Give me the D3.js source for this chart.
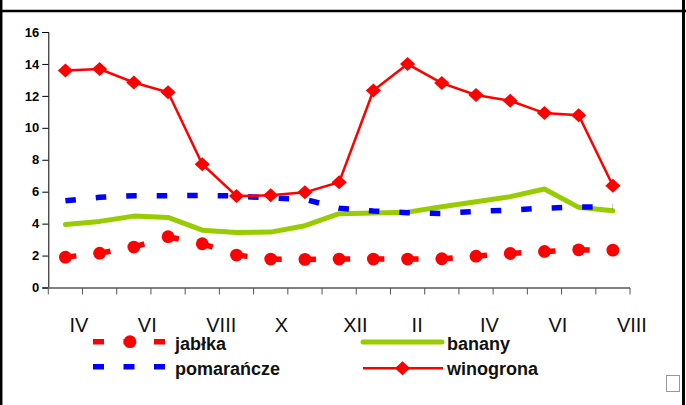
<!doctype html>
<html>
<head>
<meta charset="utf-8">
<title>Ceny owoców</title>
<script src="https://cdnjs.cloudflare.com/ajax/libs/d3/7.8.5/d3.min.js"></script>
<style>
  body { margin: 0; background: #fff; }
  svg text { font-family: "Liberation Sans", Arial, sans-serif; }
</style>
</head>
<body>
<div id="chart"></div>
<script>
// months from IV to VIII of next year
const months = ['IV','V','VI','VII','VIII','IX','X','XI','XII','I','II','III','IV','V','VI','VII','VIII'];

const jablka     = [1.9, 2.15, 2.53, 3.18, 2.74, 2.03, 1.78, 1.76, 1.78, 1.78, 1.78, 1.8, 1.96, 2.13, 2.26, 2.36, 2.34];
const pomarancze = [5.43, 5.65, 5.75, 5.75, 5.77, 5.73, 5.6, 5.52, 4.97, 4.79, 4.68, 4.64, 4.76, 4.85, 4.97, 5.04, 5.05];
const banany     = [3.95, 4.14, 4.47, 4.39, 3.59, 3.45, 3.47, 3.87, 4.62, 4.66, 4.72, 5.06, 5.37, 5.69, 6.17, 5.02, 4.81];
const winogrona  = [13.59, 13.68, 12.84, 12.23, 7.72, 5.73, 5.77, 5.96, 6.59, 12.33, 13.99, 12.8, 12.06, 11.69, 10.92, 10.79, 6.37];

const yTicks = [0, 2, 4, 6, 8, 10, 12, 14, 16];

const W = 686, H = 405;
const svg = d3.select('#chart').append('svg').attr('width', W).attr('height', H);

// frame
svg.append('line').attr('x1', 0).attr('x2', W).attr('y1', 11).attr('y2', 11)
  .attr('stroke', '#000').attr('stroke-width', 2.5);
svg.append('line').attr('x1', 1.2).attr('x2', 1.2).attr('y1', 0).attr('y2', H)
  .attr('stroke', '#000').attr('stroke-width', 2.5);
svg.append('line').attr('x1', 683.5).attr('x2', 683.5).attr('y1', 0).attr('y2', H)
  .attr('stroke', '#000').attr('stroke-width', 3);

const x = d3.scaleBand().domain(d3.range(months.length)).range([48.3, 630]);
const y = d3.scaleLinear().domain([0, 16]).range([287.5, 32]);
const cx = i => x(i) + x.bandwidth() / 2;

// y axis
const yAxis = svg.append('g').attr('transform', 'translate(48.3,0)')
  .call(d3.axisLeft(y).tickValues(yTicks).tickSize(6).tickPadding(3));
yAxis.select('.domain').attr('stroke', '#000');
yAxis.selectAll('.tick line').attr('stroke', '#000');
yAxis.selectAll('text').attr('font-size', 13).attr('font-weight', 'bold')
  .attr('fill', '#000').style('font-family', '"Liberation Sans", Arial, sans-serif');

// x axis: ticks at category boundaries
const bounds = d3.range(months.length + 1).map(i => 48.3 + i * x.step());
const xg = svg.append('g');
xg.append('line').attr('x1', 48.3).attr('x2', 630).attr('y1', 288).attr('y2', 288)
  .attr('stroke', '#808080').attr('stroke-width', 2);
xg.selectAll('.xt').data(bounds).join('line').attr('class', 'xt')
  .attr('x1', d => d).attr('x2', d => d).attr('y1', 288).attr('y2', 294.5)
  .attr('stroke', '#555').attr('stroke-width', 1);
xg.selectAll('.xl').data(months.map((m, i) => ({m, i})).filter(d => d.i % 2 === 0))
  .join('text').attr('class', 'xl')
  .attr('x', d => cx(d.i) + 4).attr('y', 331.5)
  .attr('font-size', 20).attr('fill', '#111')
  .text(d => d.m);

// banany
const line = d3.line().x((d, i) => cx(i)).y(d => y(d));
svg.append('path').datum(banany).attr('d', line)
  .attr('fill', 'none').attr('stroke', '#99cc00').attr('stroke-width', 5)
  .attr('stroke-linejoin', 'round').attr('stroke-linecap', 'round');

// pomarańcze
svg.append('path').datum(pomarancze).attr('d', line)
  .attr('fill', 'none').attr('stroke', '#0000ff').attr('stroke-width', 5.5)
  .attr('stroke-dasharray', '10.5,20');

// jabłka: dash restarts on every segment
const segs = d3.pairs(jablka.map((v, i) => [cx(i), y(v)]));
svg.selectAll('.jseg').data(segs).join('line').attr('class', 'jseg')
  .attr('x1', d => d[0][0]).attr('y1', d => d[0][1])
  .attr('x2', d => d[1][0]).attr('y2', d => d[1][1])
  .attr('stroke', '#ff0000').attr('stroke-width', 5.5)
  .attr('stroke-dasharray', '11,19.5');
svg.selectAll('.jdot').data(jablka).join('circle').attr('class', 'jdot')
  .attr('cx', (d, i) => cx(i)).attr('cy', d => y(d)).attr('r', 6.4)
  .attr('fill', '#ff0000');

// winogrona
svg.append('path').datum(winogrona).attr('d', line)
  .attr('fill', 'none').attr('stroke', '#ff0000').attr('stroke-width', 2.5);
// diamond marker, a bit wider than tall
const diamondPath = 'M-7.6,0L0,-7L7.6,0L0,7Z';
svg.selectAll('.wd').data(winogrona).join('path').attr('class', 'wd')
  .attr('transform', (d, i) => `translate(${cx(i)},${y(d)})`)
  .attr('d', diamondPath).attr('fill', '#ff0000');

// legend
const lg = svg.append('g');
lg.append('line').attr('x1', 93).attr('x2', 166).attr('y1', 341.7).attr('y2', 341.7)
  .attr('stroke', '#ff0000').attr('stroke-width', 5.5).attr('stroke-dasharray', '11,19.5');
lg.append('circle').attr('cx', 130).attr('cy', 341.7).attr('r', 6.4).attr('fill', '#ff0000');
lg.append('line').attr('x1', 93).attr('x2', 166).attr('y1', 366.7).attr('y2', 366.7)
  .attr('stroke', '#0000ff').attr('stroke-width', 5.5).attr('stroke-dasharray', '11,19.5');
lg.append('line').attr('x1', 363).attr('x2', 442).attr('y1', 342).attr('y2', 342)
  .attr('stroke', '#99cc00').attr('stroke-width', 5).attr('stroke-linecap', 'round');
lg.append('line').attr('x1', 363).attr('x2', 443).attr('y1', 368.3).attr('y2', 368.3)
  .attr('stroke', '#ff0000').attr('stroke-width', 2.5);
lg.append('path').attr('transform', 'translate(402.5,368.3)').attr('d', diamondPath).attr('fill', '#ff0000');

const legendText = [
  {t: 'jabłka', x: 175, y: 349.5},
  {t: 'pomarańcze', x: 175, y: 374.5},
  {t: 'banany', x: 447, y: 349.5},
  {t: 'winogrona', x: 447, y: 374.5}
];
lg.selectAll('.lt').data(legendText).join('text').attr('class', 'lt')
  .attr('x', d => d.x).attr('y', d => d.y)
  .attr('font-size', 18).attr('font-weight', 'bold').attr('fill', '#111')
  .text(d => d.t);

// small empty box bottom right
svg.append('rect').attr('x', 666.5).attr('y', 375.5).attr('width', 13).attr('height', 16)
  .attr('fill', 'none').attr('stroke', '#999').attr('stroke-width', 1);
</script>
</body>
</html>
